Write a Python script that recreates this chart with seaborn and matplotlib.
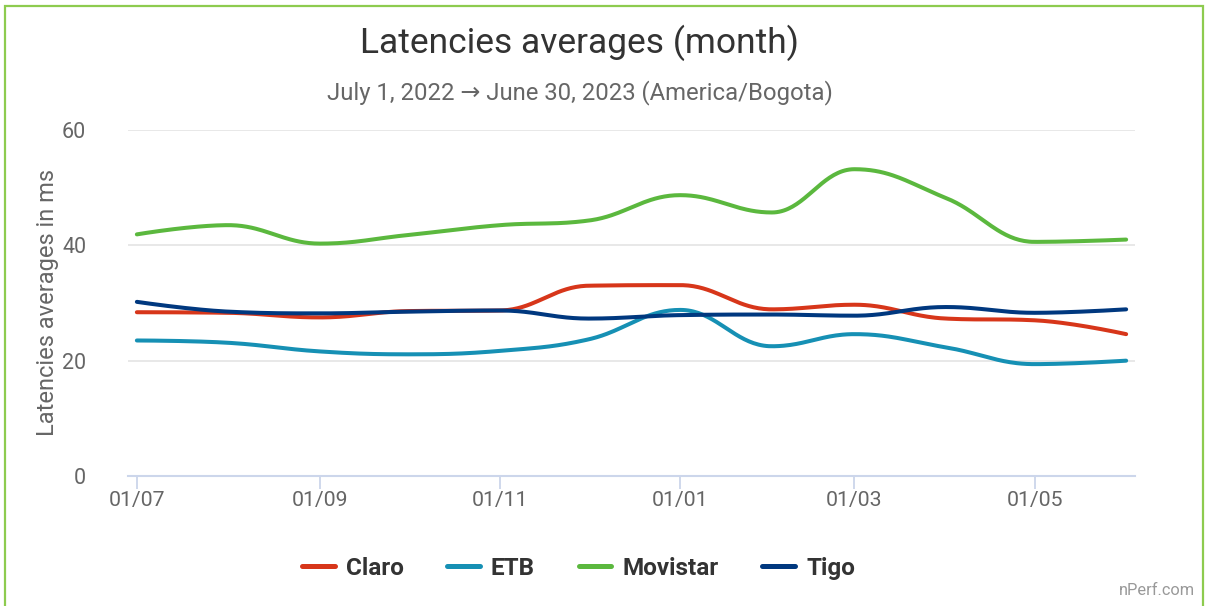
import numpy as np
import pandas as pd
import matplotlib
matplotlib.use("Agg")
import matplotlib.pyplot as plt
import matplotlib.dates as mdates
import seaborn as sns
from matplotlib.patches import Rectangle

# ---------- data ----------
months = pd.date_range("2022-07-01", "2023-06-01", freq="MS")
claro = [28.4, 28.3, 27.5, 28.6, 28.7, 33.0, 33.1, 28.9, 29.7, 27.3, 27.0, 24.6]
etb = [23.5, 23.1, 21.6, 21.1, 21.7, 23.7, 28.8, 22.5, 24.6, 22.3, 19.4, 20.0]
movistar = [41.9, 43.5, 40.3, 41.8, 43.5, 44.3, 48.7, 45.7, 53.2, 48.2, 40.6, 41.0]
tigo = [30.2, 28.5, 28.2, 28.5, 28.7, 27.3, 27.9, 28.0, 27.8, 29.3, 28.3, 28.9]

operators = ["Claro", "ETB", "Movistar", "Tigo"]
values = [claro, etb, movistar, tigo]
colors = ["#d7361a", "#1690b4", "#5bb83e", "#00387f"]


# Highcharts-like spline for drawing the smooth lines
def spline(xs, ys, n=40, smoothing=1.5):
    xs = np.asarray(xs, float)
    ys = np.asarray(ys, float)
    m = len(xs)
    lc = [(xs[i], ys[i]) for i in range(m)]
    rc = [(xs[i], ys[i]) for i in range(m)]
    d = smoothing + 1
    for i in range(1, m - 1):
        px, py = xs[i], ys[i]
        lx, ly = xs[i - 1], ys[i - 1]
        nx, ny = xs[i + 1], ys[i + 1]
        lcx = (smoothing * px + lx) / d
        lcy = (smoothing * py + ly) / d
        rcx = (smoothing * px + nx) / d
        rcy = (smoothing * py + ny) / d
        corr = (rcy - lcy) * (rcx - px) / (rcx - lcx) + py - rcy
        lcy += corr
        rcy += corr
        if lcy > ly and lcy > py:
            lcy = max(ly, py)
            rcy = 2 * py - lcy
        elif lcy < ly and lcy < py:
            lcy = min(ly, py)
            rcy = 2 * py - lcy
        if rcy > ny and rcy > py:
            rcy = max(ny, py)
            lcy = 2 * py - rcy
        elif rcy < ny and rcy < py:
            rcy = min(ny, py)
            lcy = 2 * py - rcy
        lc[i] = (lcx, lcy)
        rc[i] = (rcx, rcy)
    t = np.linspace(0, 1, n)
    outx, outy = [], []
    for i in range(m - 1):
        p0 = (xs[i], ys[i])
        p1 = rc[i]
        p2 = lc[i + 1]
        p3 = (xs[i + 1], ys[i + 1])
        bx = ((1 - t) ** 3 * p0[0] + 3 * (1 - t) ** 2 * t * p1[0]
              + 3 * (1 - t) * t ** 2 * p2[0] + t ** 3 * p3[0])
        by = ((1 - t) ** 3 * p0[1] + 3 * (1 - t) ** 2 * t * p1[1]
              + 3 * (1 - t) * t ** 2 * p2[1] + t ** 3 * p3[1])
        outx.extend(bx[:-1] if i < m - 2 else bx)
        outy.extend(by[:-1] if i < m - 2 else by)
    return np.array(outx), np.array(outy)


xnum = mdates.date2num(months)
rows = []
for name, vals in zip(operators, values):
    sx, sy = spline(xnum, vals)
    rows.append(pd.DataFrame({"date": mdates.num2date(sx), "ms": sy, "operator": name}))
df = pd.concat(rows, ignore_index=True)
df["date"] = pd.to_datetime(df["date"]).dt.tz_localize(None)

# ---------- plot ----------
sns.set_style("white")
plt.rcParams["font.family"] = ["Roboto", "DejaVu Sans"]

fig = plt.figure(figsize=(12.1, 6.06), dpi=100)
ax = fig.add_axes([128 / 1210, 1 - 476 / 606, (1135 - 128) / 1210, 346 / 606])

sns.lineplot(data=df, x="date", y="ms", hue="operator", palette=colors,
             hue_order=operators, linewidth=2.9, sort=False, estimator=None,
             ax=ax, legend=False)

ax.set_ylim(0, 60)
ax.set_yticks([0, 20, 40, 60])
ax.set_xlim(months[0] - pd.Timedelta(days=3), months[-1] + pd.Timedelta(days=3))
ax.set_xticks(months[::2])
ax.set_xticklabels([d.strftime("%d/%m") for d in months[::2]])

ax.grid(axis="y", color="#e6e6e6", linewidth=1.3)
ax.set_axisbelow(True)
for s in ["top", "right", "left"]:
    ax.spines[s].set_visible(False)
ax.spines["bottom"].set_color("#ccd6eb")
ax.spines["bottom"].set_linewidth(1.5)
ax.tick_params(axis="x", colors="#ccd6eb", length=9, width=1.3, labelcolor="#666666",
               labelsize=15.3, pad=2, bottom=True)
ax.tick_params(axis="y", length=0, labelcolor="#666666", labelsize=15.5, pad=30)
ax.set_xlabel("")
ax.set_ylabel("Latencies averages in ms", fontsize=17, color="#666666", labelpad=2)

fig.text(0.479, 0.929, "Latencies averages (month)", ha="center", va="center",
         fontsize=25.5, color="#333333")
fig.text(0.479, 0.848, "July 1, 2022 \u2192 June 30, 2023 (America/Bogota)", ha="center",
         va="center", fontsize=17.2, color="#666666")

handles = [plt.Line2D([], [], color=c, linewidth=3.6) for c in colors]
leg = fig.legend(handles, operators, loc="center", bbox_to_anchor=(0.478, 0.062),
                 ncol=4, frameon=False, handlelength=1.35, handletextpad=0.45,
                 columnspacing=1.8, prop={"weight": "bold", "size": 17.5})
for t in leg.get_texts():
    t.set_color("#333333")

fig.text(0.988, 0.014, "nPerf.com", ha="right", va="bottom", fontsize=11.8, color="#999999")

fig.patches.append(Rectangle((5 / 1210, -0.05), 1198 / 1210, 1.05 - 6 / 606,
                             transform=fig.transFigure, fill=False,
                             edgecolor="#8dcb4f", linewidth=1.6))

fig.savefig("out.png", dpi=100)
